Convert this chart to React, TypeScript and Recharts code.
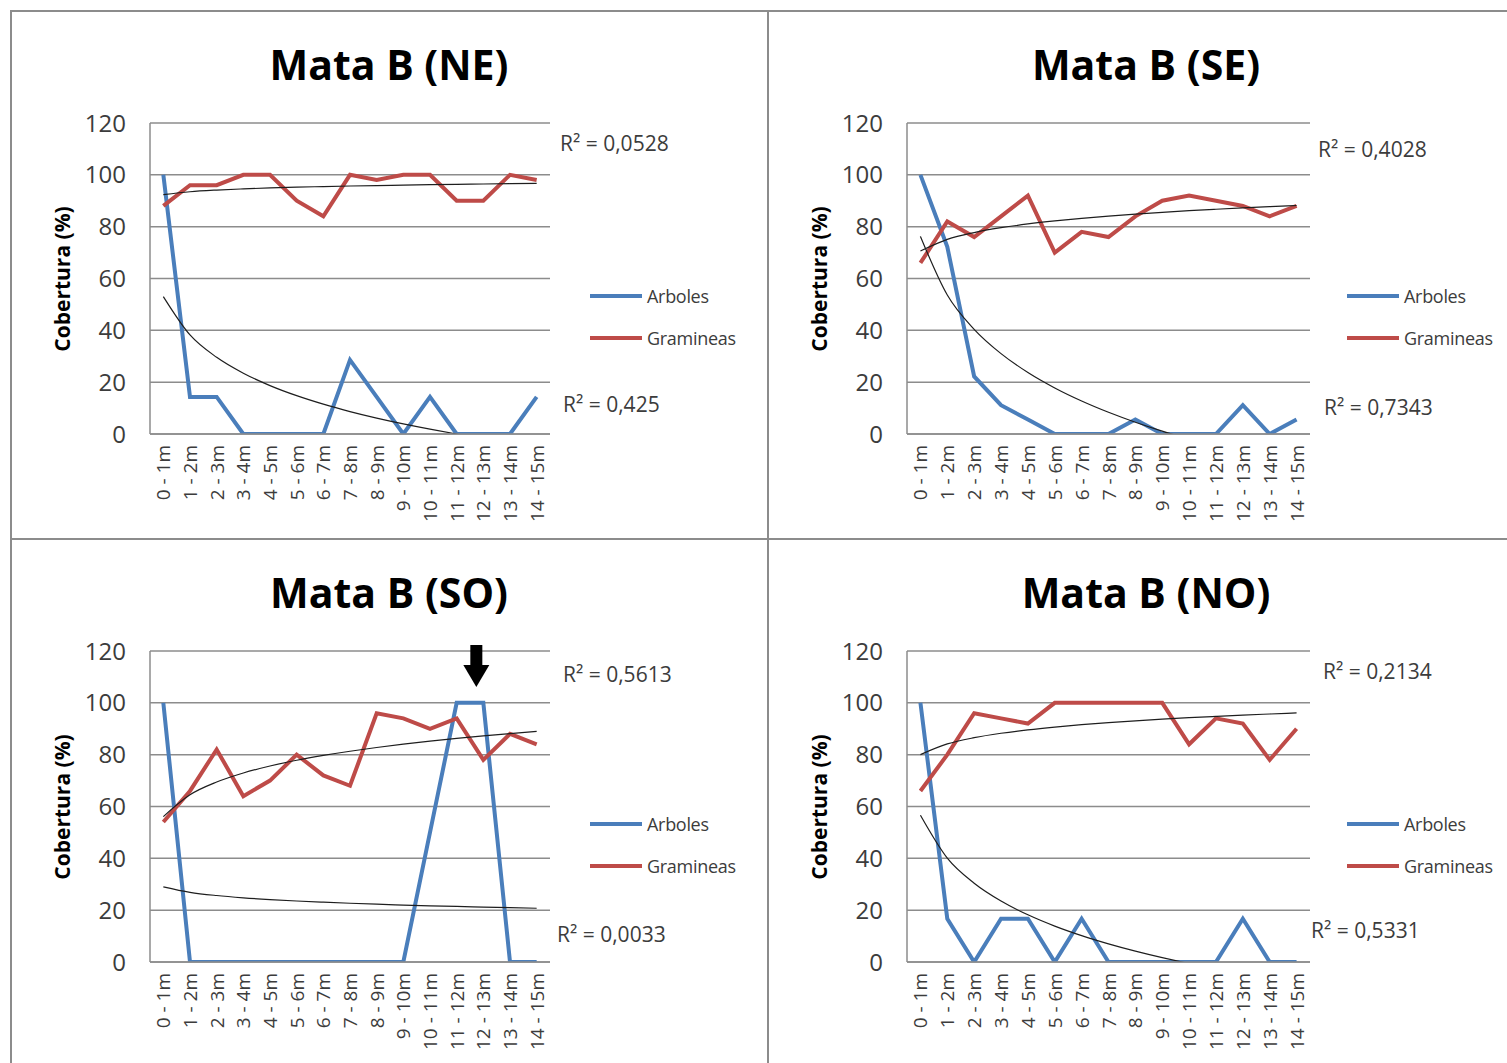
import React from 'react';
import { LineChart, Line, XAxis, YAxis, CartesianGrid, ReferenceDot } from 'recharts';

// distance classes along each transect
const categories = [
  '0 - 1m', '1 - 2m', '2 - 3m', '3 - 4m', '4 - 5m', '5 - 6m', '6 - 7m', '7 - 8m',
  '8 - 9m', '9 - 10m', '10 - 11m', '11 - 12m', '12 - 13m', '13 - 14m', '14 - 15m',
];

const yTicks = [0, 20, 40, 60, 80, 100, 120];

// cobertura (%) per transect
const neArboles = [100, 14.3, 14.3, 0, 0, 0, 0, 28.6, 14.3, 0, 14.3, 0, 0, 0, 14.3];
const neGramineas = [88, 96, 96, 100, 100, 90, 84, 100, 98, 100, 100, 90, 90, 100, 98];

const seArboles = [100, 72.2, 22.2, 11.1, 5.6, 0, 0, 0, 5.6, 0, 0, 0, 11.1, 0, 5.6];
const seGramineas = [66, 82, 76, 84, 92, 70, 78, 76, 84, 90, 92, 90, 88, 84, 88];

const soArboles = [100, 0, 0, 0, 0, 0, 0, 0, 0, 0, 50, 100, 100, 0, 0];
const soGramineas = [54, 66, 82, 64, 70, 80, 72, 68, 96, 94, 90, 94, 78, 88, 84];

const noArboles = [100, 16.7, 0, 16.7, 16.7, 0, 16.7, 0, 0, 0, 0, 0, 16.7, 0, 0];
const noGramineas = [66, 80, 96, 94, 92, 100, 100, 100, 100, 100, 84, 94, 92, 78, 90];

// R² of the trendlines (gramineas above, arboles below)
const r2Labels = {
  NE: ['0,0528', '0,425'],
  SE: ['0,4028', '0,7343'],
  SO: ['0,5613', '0,0033'],
  NO: ['0,2134', '0,5331'],
};

const BLUE = '#4A7EBB';
const RED = '#BE4B48';
const GRID = '#8c8c8c';
const TEXT = '#3c3c3c';
const FONT = '"Open Sans", "Noto Sans", sans-serif';

// logarithmic trendline y = a·ln(x) + b, least squares over x = 1..n
const logTrend = (values: number[]) => {
  const lx = values.map((_, i) => Math.log(i + 1));
  const n = values.length;
  const mx = lx.reduce((s, v) => s + v, 0) / n;
  const my = values.reduce((s, v) => s + v, 0) / n;
  let sxy = 0;
  let sxx = 0;
  lx.forEach((x, i) => {
    sxy += (x - mx) * (values[i] - my);
    sxx += (x - mx) * (x - mx);
  });
  const a = sxy / sxx;
  const b = my - a * mx;
  return lx.map((x) => a * x + b);
};

const CategoryTick = ({ x, y, payload }: any) => (
  <text
    x={x}
    y={y}
    transform={`rotate(-90, ${x}, ${y})`}
    textAnchor="end"
    dominantBaseline="central"
    fontSize={19}
    fill={TEXT}
    fontFamily={FONT}
  >
    {payload.value}
  </text>
);

const DownArrow = ({ cx, cy }: any) => {
  const x = cx - 7;
  const top = cy - 6;
  return (
    <g>
      <rect x={x - 6} y={top} width={12} height={24} fill="#000" />
      <polygon points={`${x - 13},${top + 20} ${x + 13},${top + 20} ${x},${top + 42}`} fill="#000" />
    </g>
  );
};

interface PanelProps {
  title: string;
  left: number;
  top: number;
  arboles: number[];
  gramineas: number[];
  r2: string[];
  r2Top: [number, number];
  r2Bottom: [number, number];
  marginRight: number;
  arrowAt?: string;
}

const W = 760;
const H = 528;
const PLOT_LEFT = 150;

const Panel: React.FC<PanelProps> = ({
  title, left, top, arboles, gramineas, r2, r2Top, r2Bottom, marginRight, arrowAt,
}) => {
  const trendA = logTrend(arboles);
  const trendG = logTrend(gramineas);
  const data = categories.map((cat, i) => ({
    cat,
    arboles: arboles[i],
    gramineas: gramineas[i],
    trendA: trendA[i],
    trendG: trendG[i],
  }));

  // half a category slot on each side, so points sit mid-slot
  const plotWidth = W - marginRight - PLOT_LEFT;
  const halfSlot = plotWidth / (categories.length * 2);

  const legendRow = (label: string, color: string, y: number) => (
    <div style={{ position: 'absolute', left: 590, top: y - 11, height: 22, display: 'flex', alignItems: 'center' }}>
      <div style={{ width: 52, height: 4, background: color }} />
      <span style={{ marginLeft: 5, fontSize: 18, color: TEXT, fontFamily: FONT, letterSpacing: -0.3 }}>{label}</span>
    </div>
  );

  const r2Text = (value: string, pos: [number, number]) => (
    <div
      style={{
        position: 'absolute', left: pos[0], top: pos[1], transform: 'translateY(-50%)',
        fontSize: 21, color: TEXT, fontFamily: FONT, whiteSpace: 'nowrap',
      }}
    >
      {`R² = ${value}`}
    </div>
  );

  return (
    <div style={{ position: 'absolute', left, top, width: W, height: H }}>
      <LineChart width={W} height={H} data={data} margin={{ top: 123, right: marginRight, bottom: 4, left: 30 }}>
        <CartesianGrid vertical={false} stroke={GRID} strokeWidth={1.5} />
        <XAxis
          dataKey="cat"
          interval={0}
          height={90}
          padding={{ left: halfSlot, right: halfSlot }}
          tickSize={0}
          tickMargin={11}
          tickLine={false}
          axisLine={{ stroke: GRID, strokeWidth: 1.5 }}
          tick={<CategoryTick />}
        />
        <YAxis
          width={120}
          domain={[0, 120]}
          ticks={yTicks}
          allowDataOverflow
          tickSize={0}
          tickMargin={24}
          tickLine={false}
          axisLine={{ stroke: GRID, strokeWidth: 1.5 }}
          tick={{ fontSize: 24, fill: TEXT, fontFamily: FONT }}
        />
        <Line dataKey="arboles" type="linear" stroke={BLUE} strokeWidth={4} dot={false} isAnimationActive={false} />
        <Line dataKey="gramineas" type="linear" stroke={RED} strokeWidth={4} dot={false} isAnimationActive={false} />
        <Line dataKey="trendA" type="monotone" stroke="#1e1e1e" strokeWidth={1.2} dot={false} isAnimationActive={false} />
        <Line dataKey="trendG" type="monotone" stroke="#1e1e1e" strokeWidth={1.2} dot={false} isAnimationActive={false} />
        {arrowAt && (
          <ReferenceDot x={arrowAt} y={120} r={0} ifOverflow="visible" shape={(p: any) => <DownArrow {...p} />} />
        )}
      </LineChart>

      <div
        style={{
          position: 'absolute', left: 389, top: 64, transform: 'translate(-50%, -50%)',
          fontSize: 41, fontWeight: 700, fontFamily: FONT, color: '#000', whiteSpace: 'nowrap',
        }}
      >
        {title}
      </div>

      <div
        style={{
          position: 'absolute', left: 62, top: 279, transform: 'translate(-50%, -50%) rotate(-90deg)',
          fontSize: 21, fontWeight: 700, fontFamily: FONT, color: '#000', whiteSpace: 'nowrap',
        }}
      >
        Cobertura (%)
      </div>

      {legendRow('Arboles', BLUE, 296)}
      {legendRow('Gramineas', RED, 338)}

      {r2Text(r2[0], r2Top)}
      {r2Text(r2[1], r2Bottom)}
    </div>
  );
};

const App: React.FC = () => (
  <div style={{ position: 'absolute', left: 0, top: 0, width: 1507, height: 1063, overflow: 'hidden', background: '#fff' }}>
    {/* table frame */}
    <div style={{ position: 'absolute', left: 10, top: 10, width: 1497, height: 2, background: GRID }} />
    <div style={{ position: 'absolute', left: 10, top: 10, width: 2, height: 1053, background: GRID }} />
    <div style={{ position: 'absolute', left: 767, top: 10, width: 2, height: 1053, background: GRID }} />
    <div style={{ position: 'absolute', left: 10, top: 538, width: 1497, height: 2, background: GRID }} />

    <Panel
      title="Mata B (NE)" left={0} top={0}
      arboles={neArboles} gramineas={neGramineas} r2={r2Labels.NE}
      r2Top={[560, 143]} r2Bottom={[563, 404]} marginRight={210}
    />
    <Panel
      title="Mata B (SE)" left={757} top={0}
      arboles={seArboles} gramineas={seGramineas} r2={r2Labels.SE}
      r2Top={[561, 149]} r2Bottom={[567, 407]} marginRight={207}
    />
    <Panel
      title="Mata B (SO)" left={0} top={528}
      arboles={soArboles} gramineas={soGramineas} r2={r2Labels.SO}
      r2Top={[563, 146]} r2Bottom={[557, 406]} marginRight={210}
      arrowAt={categories[12]}
    />
    <Panel
      title="Mata B (NO)" left={757} top={528}
      arboles={noArboles} gramineas={noGramineas} r2={r2Labels.NO}
      r2Top={[566, 143]} r2Bottom={[554, 402]} marginRight={207}
    />
  </div>
);

export default App;
